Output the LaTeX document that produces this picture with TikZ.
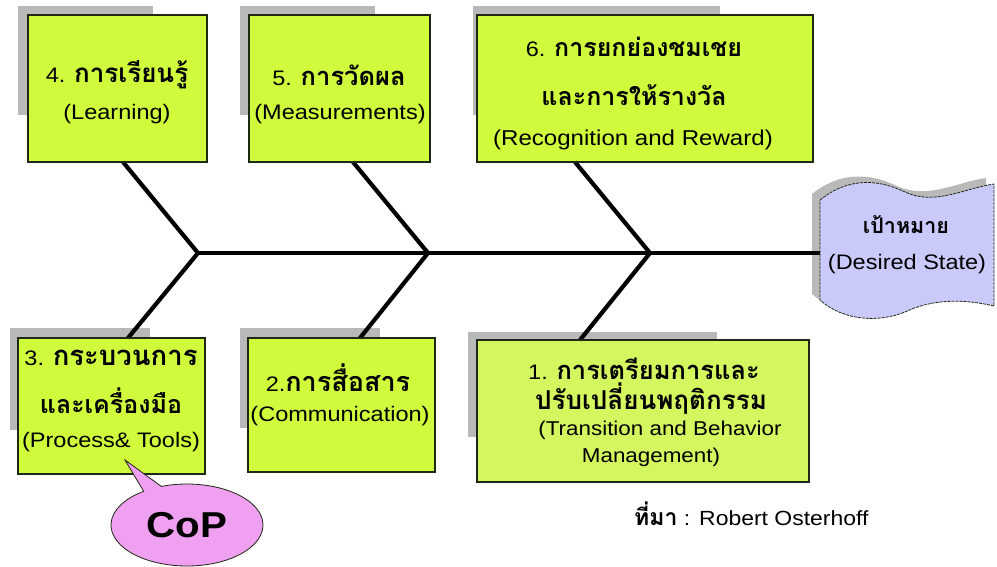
\documentclass[tikz,border=0pt]{standalone}
\usepackage{fontspec}
\setmainfont{Liberation Sans}[FakeStretch=1.12]
\newfontfamily\thai[Script=Thai]{Loma}
\usetikzlibrary{shapes.callouts,shapes.geometric}
\definecolor{boxgreen}{RGB}{208,250,60}
\definecolor{boxgreenb}{RGB}{212,246,95}
\definecolor{shadowgray}{RGB}{185,185,185}
\definecolor{flagblue}{RGB}{202,202,250}
\definecolor{coppink}{RGB}{240,160,240}
\definecolor{edge}{RGB}{30,40,20}
\newcommand{\thb}[2]{{\thai\bfseries\fontsize{#1}{#1}\selectfont #2}}
\tikzset{
  box/.style={draw=edge,line width=1.3pt,fill=boxgreen,rectangle,inner sep=0pt,outer sep=0pt},
  bone/.style={line width=4.2pt,black},
  en/.style={font=\fontsize{21}{24}\selectfont,inner sep=0pt},
  th/.style={font=\fontsize{25}{28}\selectfont\thai\bfseries,inner sep=0pt},
}
\begin{document}
\begin{tikzpicture}[x=1pt,y=-1pt]
\useasboundingbox[fill=white] (0,0) rectangle (997,566);
% shadows
\fill[shadowgray] (18,6) rectangle (153,115);
\fill[shadowgray] (240,6) rectangle (375,115);
\fill[shadowgray] (473,6) rectangle (720,115);
\fill[shadowgray] (10,328) rectangle (150,430);
\fill[shadowgray] (240,328) rectangle (380,428);
\fill[shadowgray] (468,332) rectangle (717,437);
% flag shadow
\fill[shadowgray, shift={(-8,-6)}] (820,200) .. controls (850,176) and (880,180) .. (905,192)
  .. controls (935,206) and (965,188) .. (994,184) -- (994,306)
  .. controls (960,298) and (930,300) .. (905,312)
  .. controls (880,322) and (845,322) .. (820,300) -- cycle;
% junctions and goal
\coordinate (j1) at (198,253);
\coordinate (j2) at (428,253);
\coordinate (j3) at (650,253);
\coordinate (goal) at (820,253);
% boxes
\node[box,minimum width=179pt,minimum height=147pt] (b4) at (117.5,88.5) {};
\node[box,minimum width=181pt,minimum height=147pt] (b5) at (339.5,88.5) {};
\node[box,minimum width=336pt,minimum height=147pt] (b6) at (645,88.5) {};
\node[box,minimum width=187pt,minimum height=136pt] (b3) at (111.5,406) {};
\node[box,minimum width=187pt,minimum height=134pt] (b2) at (341.5,405) {};
\node[box,fill=boxgreenb,minimum width=332pt,minimum height=142pt] (b1) at (643,411) {};
% bones
\draw[bone] (j1) -- (goal);
\draw[bone] ([xshift=5.5pt]b4.south) -- (j1);
\draw[bone] ([xshift=13.5pt]b5.south) -- (j2);
\draw[bone] ([xshift=-70pt]b6.south) -- (j3);
\draw[bone] (j1) -- ([xshift=16.5pt]b3.north);
\draw[bone] (j2) -- ([xshift=18.5pt]b2.north);
\draw[bone] (j3) -- ([xshift=-63pt]b1.north);
% redraw box borders over bone ends
\draw[edge,line width=1.3pt] (b4.south west) -- (b4.south east);
\draw[edge,line width=1.3pt] (b5.south west) -- (b5.south east);
\draw[edge,line width=1.3pt] (b6.south west) -- (b6.south east);
\draw[edge,line width=1.3pt] (b3.north west) -- (b3.north east);
\draw[edge,line width=1.3pt] (b2.north west) -- (b2.north east);
\draw[edge,line width=1.3pt] (b1.north west) -- (b1.north east);
% flag
\draw[edge,line width=0.8pt,fill=flagblue,dash pattern=on 3pt off 1pt] (820,200) .. controls (850,176) and (880,180) .. (905,192)
  .. controls (935,206) and (965,188) .. (994,184) -- (994,306)
  .. controls (960,298) and (930,300) .. (905,312)
  .. controls (880,322) and (845,322) .. (820,300) -- cycle;
\node[th,font=\fontsize{21.5}{24}\selectfont\thai\bfseries] (g1) at (906,225) {เป้าหมาย};
\node[en] (g2) at (907,264) {(Desired State)};
% texts
\node[en] (t4a) at (117,75) {4. \thb{26}{การเรียนรู้}};
\node[en] (t4b) at (117,114) {(Learning)};
\node[en] (t5a) at (339,75) {5. \thb{25.5}{การวัดผล}};
\node[en] (t5b) at (340,114) {(Measurements)};
\node[en] (t6a) at (634,47) {6. \thb{25}{การยกย่องชมเชย}};
\node[th] (t6b) at (634,95) {และการให้รางวัล};
\node[en,font=\fontsize{21.5}{24}\selectfont] (t6c) at (633,140) {(Recognition and Reward)};
\node[en] (t3a) at (111,358) {3. \thb{27.5}{กระบวนการ}};
\node[th] (t3b) at (111,401) {และเครื่องมือ};
\node[en] (t3c) at (111,442) {(Process\& Tools)};
\node[en] (t2a) at (338,378) {2.\thb{27}{การสื่อสาร}};
\node[en] (t2b) at (340,416) {(Communication)};
\node[en] (t1a) at (644,369) {1. \thb{25.5}{การเตรียมการและ}};
\node[th,font=\fontsize{26}{28}\selectfont\thai\bfseries] (t1b) at (651,399) {ปรับเปลี่ยนพฤติกรรม};
\node[en,font=\fontsize{20}{24}\selectfont] (t1c) at (660,430) {(Transition and Behavior};
\node[en,font=\fontsize{20}{24}\selectfont] (t1d) at (651,457) {Management)};
% CoP callout
\node[ellipse callout, draw=edge, line width=0.8pt, fill=coppink,
      minimum width=152pt, minimum height=82pt, inner sep=0pt,
      callout absolute pointer={(125,460)},
      font=\fontsize{36}{40}\selectfont\bfseries] (cop) at (187,525) {CoP};
% source
\node[en,anchor=west,font=\fontsize{20.5}{24}\selectfont] (src) at (634,514) {\thb{23}{ที่มา} :\hspace{9pt}Robert Osterhoff};
\end{tikzpicture}
\end{document}
